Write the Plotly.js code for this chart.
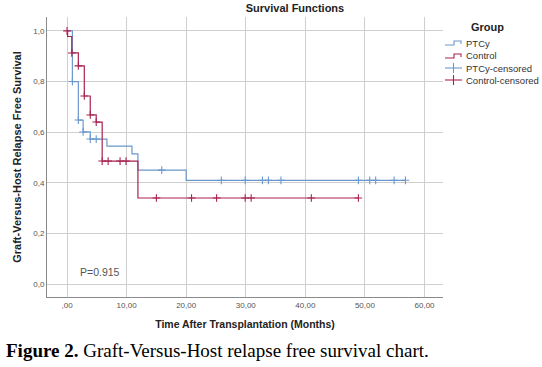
<!DOCTYPE html>
<html>
<head>
<meta charset="utf-8">
<script src="https://cdn.plot.ly/plotly-3.0.1.min.js"></script>
<style>html,body{margin:0;padding:0;background:#fff;}#chart{width:542px;height:367px;}</style>
</head>
<body>
<div id="chart"></div>
<script>
// ---- data ----
const ptcyTime = [0, 0.9, 1.9, 2.7, 3.9, 6.7, 10.9, 11.9, 20.0, 56.8];
const ptcySurv = [1.0, 0.80, 0.648, 0.601, 0.573, 0.545, 0.514, 0.450, 0.410, 0.410];
const ctrlTime = [0, 0.1, 0.8, 1.9, 2.9, 3.9, 4.9, 5.9, 11.9, 48.9];
const ctrlSurv = [1.0, 0.978, 0.913, 0.862, 0.743, 0.668, 0.640, 0.486, 0.340, 0.340];
const ptcyCensTime = [0.9, 1.9, 2.7, 3.9, 4.9, 15.9, 25.9, 29.9, 32.8, 33.8, 35.9, 48.9, 50.8, 51.8, 54.9, 56.8];
const ptcyCensSurv = [0.80, 0.648, 0.601, 0.573, 0.573, 0.450, 0.410, 0.410, 0.410, 0.410, 0.410, 0.410, 0.410, 0.410, 0.410, 0.410];
const ctrlCensTime = [0, 0.8, 1.9, 2.9, 3.9, 4.9, 5.9, 6.9, 8.9, 9.9, 15.0, 20.9, 25.1, 29.9, 30.9, 41.0, 48.9];
const ctrlCensSurv = [1.0, 0.913, 0.862, 0.743, 0.668, 0.640, 0.486, 0.486, 0.486, 0.486, 0.340, 0.340, 0.340, 0.340, 0.340, 0.340, 0.340];
const xTickVals = [0, 10, 20, 30, 40, 50, 60];
const xTickText = [",00", "10,00", "20,00", "30,00", "40,00", "50,00", "60,00"];
const yTickVals = [0, 0.2, 0.4, 0.6, 0.8, 1.0];
const yTickText = ["0,0", "0,2", "0,4", "0,6", "0,8", "1,0"];
const groupNames = ["PTCy", "Control", "PTCy-censored", "Control-censored"];
const pValueText = "P=0.915";

// ---- styling ----
const BLUE = '#6b98cc';
const RED = '#a8234f';
const W = 542, H = 367;
const M = {l: 47, r: 99, t: 17, b: 70};
const PW = W - M.l - M.r, PH = H - M.t - M.b;
const px = v => (v - M.l) / PW;          // pixel x -> paper x
const py = v => (H - M.b - v) / PH;      // pixel y -> paper y

const traces = [
  {x: ptcyTime, y: ptcySurv, mode: 'lines', line: {shape: 'hv', color: BLUE, width: 1.2}, name: groupNames[0], showlegend: false},
  {x: ctrlTime, y: ctrlSurv, mode: 'lines', line: {shape: 'hv', color: RED, width: 1.2}, name: groupNames[1], showlegend: false},
  {x: ptcyCensTime, y: ptcyCensSurv, mode: 'markers', marker: {symbol: 'cross-thin', size: 5.5, line: {color: BLUE, width: 1.1}}, name: groupNames[2], showlegend: false},
  {x: ctrlCensTime, y: ctrlCensSurv, mode: 'markers', marker: {symbol: 'cross-thin', size: 5.5, line: {color: RED, width: 1.1}}, name: groupNames[3], showlegend: false}
];

// custom legend (SPSS style)
const shapes = [];
const annotations = [];
const legX0 = 445, legX1 = 462, legTextX = 464;
const legY = [43, 56, 68, 80];
const legColors = [BLUE, RED, BLUE, RED];
annotations.push({xref: 'paper', yref: 'paper', x: px(488), y: py(27), text: '<b>Group</b>', showarrow: false,
  font: {family: 'Liberation Sans, Arial, sans-serif', size: 11, color: '#222'}, xanchor: 'center', yanchor: 'middle'});
groupNames.forEach((n, i) => {
  const y = legY[i];
  if (i < 2) {
    shapes.push({type: 'path', xref: 'paper', yref: 'paper', line: {color: legColors[i], width: 1.1},
      path: `M${px(legX0)},${py(y + 2)} L${px(454)},${py(y + 2)} L${px(454)},${py(y - 2)} L${px(461)},${py(y - 2)} L${px(461)},${py(y + 1)}`});
  } else {
    shapes.push({type: 'line', xref: 'paper', yref: 'paper', x0: px(legX0), x1: px(legX1), y0: py(y), y1: py(y), line: {color: legColors[i], width: 1.1}});
    shapes.push({type: 'line', xref: 'paper', yref: 'paper', x0: px(453.5), x1: px(453.5), y0: py(y - 5), y1: py(y + 5), line: {color: legColors[i], width: 1.1}});
  }
  annotations.push({xref: 'paper', yref: 'paper', x: px(legTextX), y: py(y), text: n, showarrow: false,
    font: {family: 'Liberation Sans, Arial, sans-serif', size: 9.5, color: '#333'}, xanchor: 'left', yanchor: 'middle'});
});

annotations.push({xref: 'x', yref: 'y', x: 1.8, y: 0.048, text: pValueText, showarrow: false, xanchor: 'left', yanchor: 'middle',
  font: {family: 'Liberation Sans, Arial, sans-serif', size: 10.5, color: '#555'}});

annotations.push({xref: 'paper', yref: 'paper', x: px(4), y: py(350), xanchor: 'left', yanchor: 'middle', showarrow: false,
  text: '<b>Figure 2.</b> Graft-Versus-Host relapse free survival chart.',
  font: {family: 'Liberation Serif, Times New Roman, serif', size: 19, color: '#000'}});

const layout = {
  width: W, height: H,
  margin: M,
  paper_bgcolor: '#fff', plot_bgcolor: '#fff',
  showlegend: false,
  title: {text: '<b>Survival Functions</b>', font: {family: 'Liberation Sans, Arial, sans-serif', size: 11, color: '#222'},
    xref: 'container', x: 295 / W, xanchor: 'center', yref: 'container', y: 1 - 8 / H, yanchor: 'middle'},
  xaxis: {
    range: [-3.36, 63.1], tickvals: xTickVals, ticktext: xTickText, ticks: '', showgrid: true, gridcolor: '#cfcfcf', gridwidth: 1,
    zeroline: false, showline: true, linecolor: '#8a8a8a', linewidth: 1, mirror: false,
    tickfont: {family: 'Liberation Sans, Arial, sans-serif', size: 8, color: '#555'},
    title: {text: '<b>Time After Transplantation (Months)</b>', font: {family: 'Liberation Sans, Arial, sans-serif', size: 10.5, color: '#222'}, standoff: 12},
    automargin: false
  },
  yaxis: {
    range: [-0.051, 1.055], tickvals: yTickVals, ticktext: yTickText, ticks: '', showgrid: true, gridcolor: '#cfcfcf', gridwidth: 1,
    zeroline: false, showline: true, linecolor: '#8a8a8a', linewidth: 1,
    tickfont: {family: 'Liberation Sans, Arial, sans-serif', size: 8, color: '#555'},
    title: {text: '<b>Graft-Versus-Host Relapse Free Survival</b>', font: {family: 'Liberation Sans, Arial, sans-serif', size: 11, color: '#222'}, standoff: 9},
    automargin: false
  },
  shapes: shapes,
  annotations: annotations
};

Plotly.newPlot('chart', traces, layout, {staticPlot: true, displayModeBar: false});
</script>
</body>
</html>
